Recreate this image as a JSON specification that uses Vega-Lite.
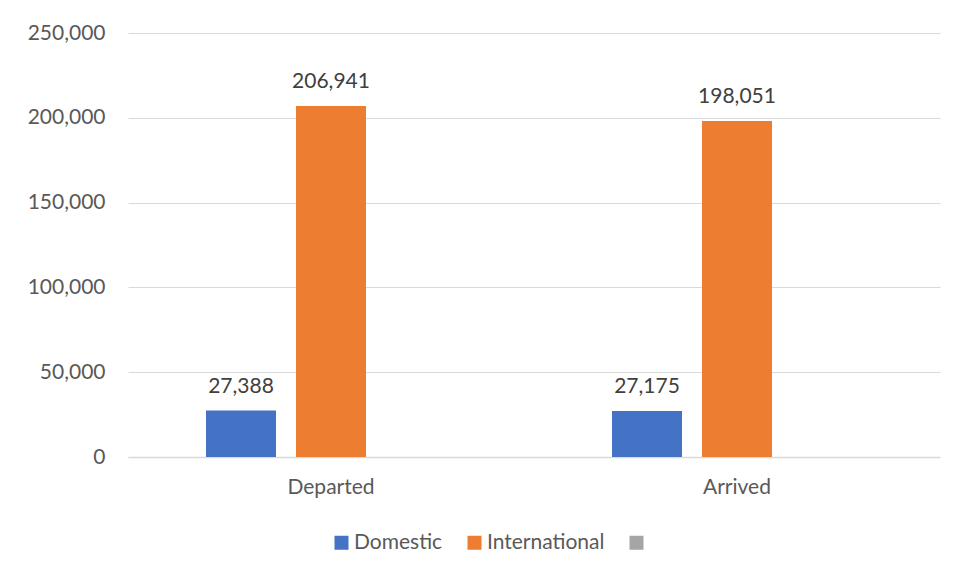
{
  "$schema": "https://vega.github.io/schema/vega-lite/v6.json",
  "width": 812,
  "height": 424,
  "autosize": {"type": "none"},
  "padding": {"left": 128, "top": 33, "right": 18, "bottom": 120},
  "background": "white",
  "config": {"view": {"stroke": null}, "font": "Lato"},
  "data": {
    "values": [
      {"status": "Departed", "type": "Domestic", "count": 27388},
      {"status": "Departed", "type": "International", "count": 206941},
      {"status": "Arrived", "type": "Domestic", "count": 27175},
      {"status": "Arrived", "type": "International", "count": 198051}
    ]
  },
  "encoding": {
    "x": {
      "field": "status",
      "type": "nominal",
      "sort": ["Departed", "Arrived"],
      "scale": {"paddingInner": 0, "paddingOuter": 0},
      "axis": {
        "title": null,
        "labelAngle": 0,
        "labelFontSize": 21,
        "labelColor": "#595959",
        "labelPadding": 19,
        "ticks": false,
        "domain": true,
        "domainColor": "#d9d9d9",
        "domainWidth": 1.5,
        "grid": false
      }
    },
    "xOffset": {
      "field": "type",
      "type": "nominal",
      "scale": {"domain": ["Domestic", "International", ""], "paddingInner": 0.2222, "paddingOuter": 0.8667}
    },
    "y": {
      "field": "count",
      "type": "quantitative",
      "scale": {"domain": [0, 250000], "nice": false},
      "axis": {
        "title": null,
        "values": [0, 50000, 100000, 150000, 200000, 250000],
        "format": ",.0f",
        "labelFontSize": 21,
        "labelColor": "#595959",
        "labelPadding": 23,
        "ticks": false,
        "domain": false,
        "grid": true,
        "gridColor": "#d9d9d9",
        "gridWidth": 1.2
      }
    }
  },
  "layer": [
    {
      "mark": {"type": "bar"},
      "encoding": {
        "color": {
          "field": "type",
          "type": "nominal",
          "scale": {"domain": ["Domestic", "International", ""], "range": ["#4472C4", "#ED7D31", "#A5A5A5"]},
          "legend": {
            "title": null,
            "orient": "none",
            "direction": "horizontal",
            "legendX": 203,
            "legendY": 499,
            "symbolType": "square",
            "symbolSize": 196,
            "symbolStrokeWidth": 0,
            "symbolOpacity": 1,
            "labelFontSize": 21,
            "labelColor": "#595959",
            "labelOffset": 2,
            "columnPadding": 21
          }
        }
      }
    },
    {
      "mark": {"type": "text", "dy": -18, "baseline": "alphabetic", "fontSize": 21, "color": "#404040"},
      "encoding": {"text": {"field": "count", "type": "quantitative", "format": ",.0f"}}
    }
  ]
}
